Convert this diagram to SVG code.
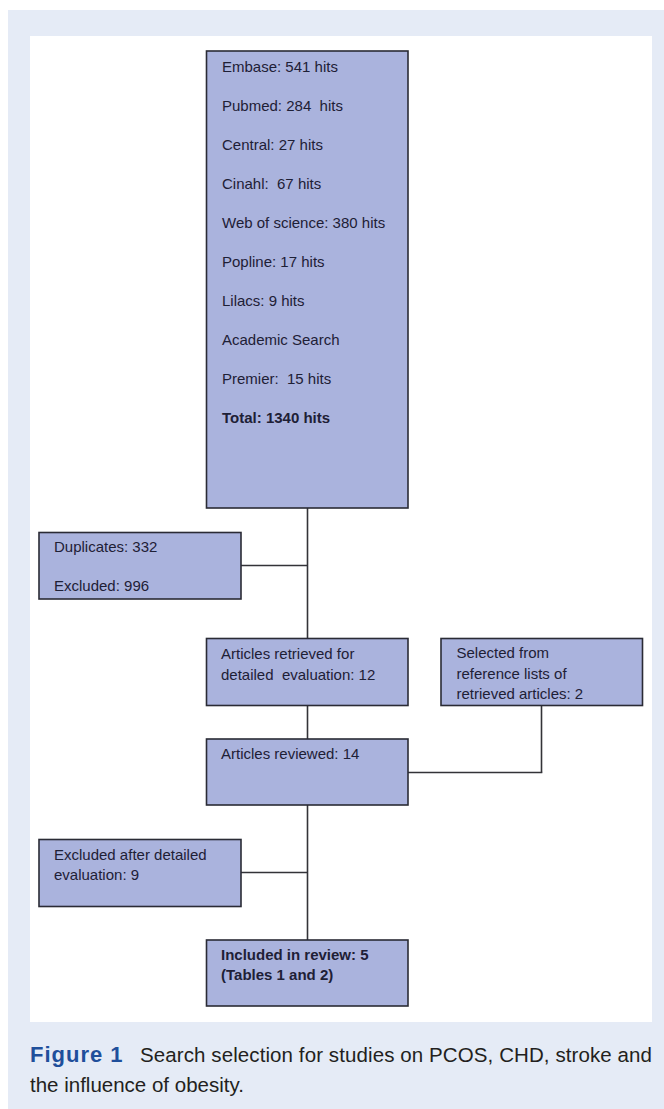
<svg xmlns="http://www.w3.org/2000/svg" width="664" height="1109" viewBox="0 0 664 1109">
<defs>
<style>
.box{fill:#aab3dd;stroke:#2a2b35;stroke-width:1.6}
.t{font-family:"Liberation Sans",Arial,sans-serif;font-size:15px;fill:#1e2036}
.b{font-weight:bold}
.conn line{stroke:#333338;stroke-width:1.6}
.cap{font-family:"Liberation Sans",Arial,sans-serif;font-size:20.5px;fill:#231f20}
.fig{font-family:"Liberation Sans",Arial,sans-serif;font-size:22px;font-weight:bold;fill:#1f4f9b;letter-spacing:1px}
</style>
</defs>
<rect x="0" y="0" width="664" height="1109" fill="#ffffff"/>
<rect x="8" y="10" width="656" height="1099" fill="#e5ebf6"/>
<rect x="30" y="36" width="622" height="986" fill="#ffffff"/>

<g id="connectors" class="conn">
<line x1="307.5" y1="508" x2="307.5" y2="638.5"/>
<line x1="241" y1="565.5" x2="307.5" y2="565.5"/>
<line x1="307.5" y1="705.5" x2="307.5" y2="739"/>
<line x1="541.5" y1="705.5" x2="541.5" y2="772.5"/>
<line x1="408" y1="772.5" x2="542.3" y2="772.5"/>
<line x1="307.5" y1="805" x2="307.5" y2="940"/>
<line x1="241" y1="872.5" x2="307.5" y2="872.5"/>
</g>

<g id="search">
<rect class="box" x="206.5" y="51" width="201.5" height="457"/>
<text class="t" x="222" y="72">Embase: 541 hits</text>
<text class="t" x="222" y="111" xml:space="preserve">Pubmed: 284  hits</text>
<text class="t" x="222" y="150">Central: 27 hits</text>
<text class="t" x="222" y="189" xml:space="preserve">Cinahl:  67 hits</text>
<text class="t" x="222" y="228">Web of science: 380 hits</text>
<text class="t" x="222" y="267">Popline: 17 hits</text>
<text class="t" x="222" y="306">Lilacs: 9 hits</text>
<text class="t" x="222" y="345">Academic Search</text>
<text class="t" x="222" y="384" xml:space="preserve">Premier:  15 hits</text>
<text class="t b" x="222" y="423">Total: 1340 hits</text>
</g>

<g id="duplicates">
<rect class="box" x="39" y="532.5" width="202" height="66.5"/>
<text class="t" x="54" y="552">Duplicates: 332</text>
<text class="t" x="54" y="591">Excluded: 996</text>
</g>

<g id="retrieved">
<rect class="box" x="206.5" y="638.5" width="201.5" height="67"/>
<text class="t" x="221" y="659">Articles retrieved for</text>
<text class="t" x="221" y="679.5" xml:space="preserve">detailed  evaluation: 12</text>
</g>

<g id="selected">
<rect class="box" x="441" y="638.5" width="201.5" height="67"/>
<text class="t" x="456.5" y="658">Selected from</text>
<text class="t" x="456.5" y="678.5">reference lists of</text>
<text class="t" x="456.5" y="699">retrieved articles: 2</text>
</g>

<g id="reviewed">
<rect class="box" x="206.5" y="739" width="201.5" height="66"/>
<text class="t" x="221" y="759">Articles reviewed: 14</text>
</g>

<g id="excluded">
<rect class="box" x="39" y="839.5" width="202" height="67"/>
<text class="t" x="54" y="859.5">Excluded after detailed</text>
<text class="t" x="54" y="880">evaluation: 9</text>
</g>

<g id="included">
<rect class="box" x="206.5" y="940" width="201.5" height="66"/>
<text class="t b" x="221" y="959.5">Included in review: 5</text>
<text class="t b" x="221" y="980">(Tables 1 and 2)</text>
</g>

<g id="caption">
<text class="fig" x="30" y="1061.5">Figure 1</text>
<text class="cap" x="140" y="1061.5" textLength="512" lengthAdjust="spacing">Search selection for studies on PCOS, CHD, stroke and</text>
<text class="cap" x="30" y="1091.5">the influence of obesity.</text>
</g>
</svg>
